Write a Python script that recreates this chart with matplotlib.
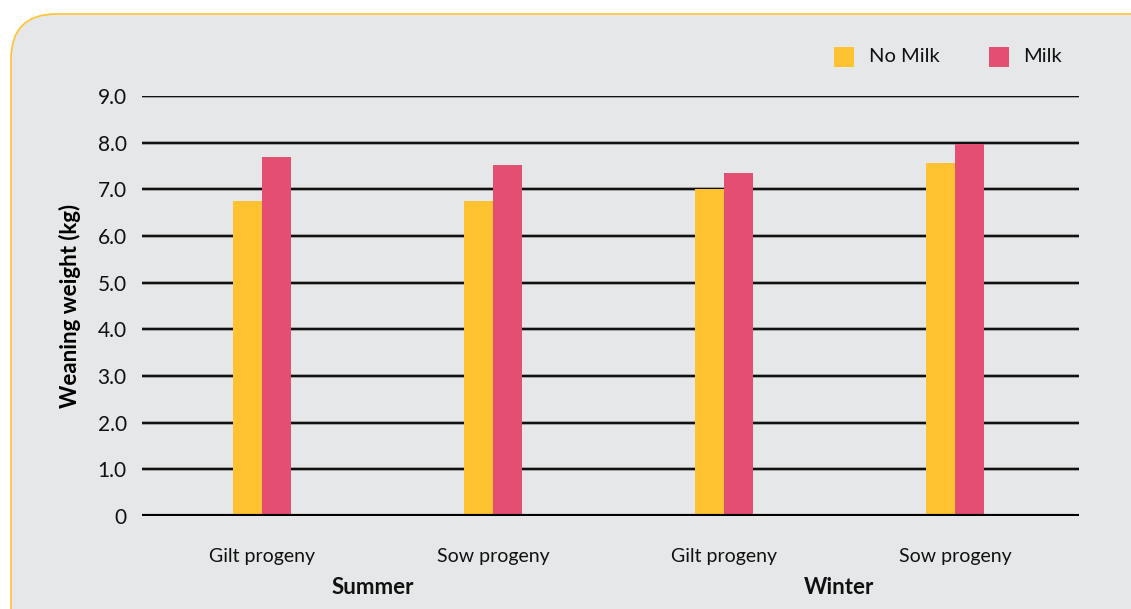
import matplotlib
matplotlib.use("Agg")
import matplotlib.pyplot as plt
from matplotlib.patches import FancyBboxPatch, Rectangle
import numpy as np

categories = ["Gilt progeny", "Sow progeny", "Gilt progeny", "Sow progeny"]
groups = ["Summer", "Winter"]
no_milk = [6.75, 6.75, 7.0, 7.57]
milk = [7.7, 7.52, 7.35, 7.98]
yticks = [0, 1, 2, 3, 4, 5, 6, 7, 8, 9]
ytick_labels = ["0", "1.0", "2.0", "3.0", "4.0", "5.0", "6.0", "7.0", "8.0", "9.0"]
series_names = ["No Milk", "Milk"]

YELLOW = "#FFC331"
PINK = "#E44E72"
BG = "#E6E7E8"
FONT = ["Lato", "DejaVu Sans"]
plt.rcParams["font.family"] = FONT

W, H = 1131, 609
fig = plt.figure(figsize=(W / 100, H / 100), dpi=100)
fig.patch.set_facecolor("white")

# rounded background panel
panel = FancyBboxPatch((11 / W, 1 - 700 / H), (W + 100) / W, (700 - 14) / H,
                       boxstyle="round,pad=0,rounding_size=0.04",
                       transform=fig.transFigure, facecolor=BG,
                       edgecolor=YELLOW, linewidth=1.2, mutation_aspect=W / H,
                       zorder=-10)
fig.patches.append(panel)

ax = fig.add_axes([142 / W, 1 - 516 / H, (1079 - 142) / W, (516 - 96) / H])
ax.set_zorder(5)
ax.set_facecolor("none")
x = np.arange(len(categories))
bw = 0.126
ax.bar(x - bw / 2, no_milk, width=bw, color=YELLOW, zorder=3, label=series_names[0])
ax.bar(x + bw / 2, milk, width=bw, color=PINK, zorder=3, label=series_names[1])

ax.set_xlim(-0.52, 3.537)
ax.set_ylim(0, 9)
ax.set_yticks(yticks)
ax.set_yticklabels(ytick_labels, fontsize=15)
for yv in yticks[1:]:
    ax.axhline(yv, color="#9a9a9a", linewidth=2.6, zorder=1.9)
    ax.axhline(yv, color="#111111", linewidth=1.5, zorder=2)
ax.axhline(0, color="black", linewidth=3, zorder=4)
for s in ax.spines.values():
    s.set_visible(False)
ax.tick_params(axis="y", length=0, pad=11, labelcolor="#111111")
ax.set_xticks(x)
ax.set_xticklabels(categories, fontsize=14)
ax.tick_params(axis="x", length=0, pad=23, labelcolor="#111111")
ax.set_ylabel("Weaning weight (kg)", fontsize=16, fontweight="bold", labelpad=12)

gy = -(588 - 516) / (516 - 96)
group_x = [373, 840]
for gi, g in enumerate(groups):
    cx = (x[2 * gi] + x[2 * gi + 1]) / 2 - 0.02 * (1 - gi)
    ax.text(cx, gy, g, transform=ax.get_xaxis_transform(), fontsize=16,
            fontweight="bold", ha="center", va="center", color="#111111")

# legend
leg_items = [(834, YELLOW, series_names[0], 869), (989, PINK, series_names[1], 1023)]
for px, col, name, tx in leg_items:
    fig.patches.append(Rectangle((px / W, 1 - 67 / H), 20 / W, 20 / H,
                                 transform=fig.transFigure, facecolor=col,
                                 edgecolor="none", zorder=2))
    fig.text(tx / W, 1 - 57 / H, name, fontsize=14.5, va="center", ha="left", color="#111111")

fig.savefig("out.png", dpi=100, facecolor=fig.get_facecolor())
